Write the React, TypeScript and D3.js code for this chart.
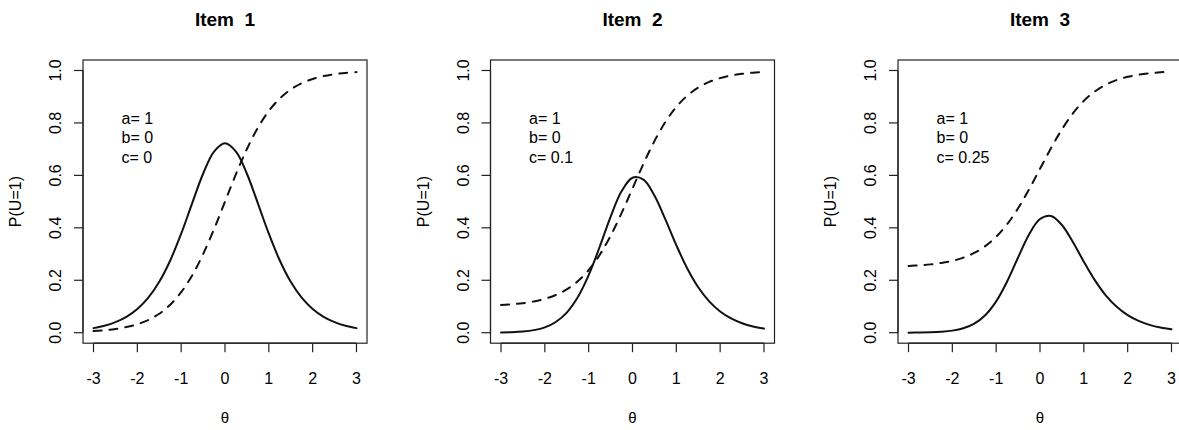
import React from 'react';
import * as d3 from 'd3';

const width = 1179;
const height = 430;
const FONT = '"Liberation Sans", Arial, Helvetica, sans-serif';

// theta grid the curves were read at
const theta = [-3, -2.75, -2.5, -2.25, -2, -1.75, -1.5, -1.25, -1, -0.75, -0.5, -0.25, 0,
  0.25, 0.5, 0.75, 1, 1.25, 1.5, 1.75, 2, 2.25, 2.5, 2.75, 3];

const itemNames = ['Item  1', 'Item  2', 'Item  3'];
const paramA = ['1', '1', '1'];
const paramB = ['0', '0', '0'];
const paramC = ['0', '0.1', '0.25'];

// dashed curves: P(U=1)
const icc1 = [0.0061, 0.0092, 0.0141, 0.0214, 0.0323, 0.0486, 0.0724, 0.1067, 0.1545, 0.2184, 0.2994, 0.3953, 0.5,
  0.6047, 0.7006, 0.7816, 0.8455, 0.8933, 0.9276, 0.9514, 0.9677, 0.9786, 0.9859, 0.9908, 0.9939];
const icc2 = [0.1055, 0.1083, 0.1127, 0.1193, 0.1291, 0.1437, 0.1652, 0.196, 0.2391, 0.2966, 0.3695, 0.4558, 0.55,
  0.6442, 0.7305, 0.8034, 0.861, 0.904, 0.9348, 0.9563, 0.9709, 0.9807, 0.9873, 0.9917, 0.9945];
const icc3 = [0.2546, 0.2569, 0.2606, 0.2661, 0.2742, 0.2865, 0.3043, 0.33, 0.3659, 0.4138, 0.4746, 0.5465, 0.625,
  0.7035, 0.7755, 0.8362, 0.8841, 0.92, 0.9457, 0.9636, 0.9758, 0.984, 0.9894, 0.9931, 0.9954];

// solid curves: information
const info1 = [0.0175, 0.0263, 0.0402, 0.0605, 0.0903, 0.1336, 0.1941, 0.2755, 0.3775, 0.4933, 0.6062, 0.6908, 0.7225,
  0.6908, 0.6062, 0.4933, 0.3775, 0.2755, 0.1941, 0.1336, 0.0903, 0.0605, 0.0402, 0.0263, 0.0175];
const info2 = [0.0009, 0.002, 0.0045, 0.0098, 0.0203, 0.0407, 0.0766, 0.135, 0.2196, 0.3269, 0.4421, 0.5392, 0.5911,
  0.5836, 0.5233, 0.432, 0.3337, 0.245, 0.1733, 0.1196, 0.081, 0.0544, 0.0361, 0.0237, 0.0158];
const info3 = [0.0003, 0.0007, 0.0016, 0.0037, 0.008, 0.017, 0.0346, 0.0668, 0.1196, 0.1953, 0.2868, 0.3748, 0.4335,
  0.4454, 0.4108, 0.3458, 0.2708, 0.2006, 0.1428, 0.099, 0.0672, 0.0451, 0.03, 0.0197, 0.0131];

const iccs = [icc1, icc2, icc3];
const infos = [info1, info2, info3];

const xTicks = [-3, -2, -1, 0, 1, 2, 3];
const yTicks = [0, 0.2, 0.4, 0.6, 0.8, 1.0];

const PANEL_LEFT = 83;
const PANEL_STEP = 407.5;
const PANEL_W = 284;
const TOP = 60;
const BOTTOM = 343.2;

const Panel = ({i}: {i: number}) => {
  const left = PANEL_LEFT + i * PANEL_STEP;
  const x = d3.scaleLinear().domain([-3.24, 3.24]).range([left, left + PANEL_W]);
  const y = d3.scaleLinear().domain([-0.04, 1.04]).range([BOTTOM, TOP]);
  const line = d3.line<number>()
    .x((d, k) => x(theta[k]))
    .y(d => y(d))
    .curve(d3.curveCatmullRom.alpha(0.5));
  const cx = left + PANEL_W / 2;
  const cy = (TOP + BOTTOM) / 2;

  return (
    <g fontFamily={FONT} fill="#000">
      <text x={cx} y={26} textAnchor="middle" fontWeight="bold" fontSize={19} style={{whiteSpace: 'pre'}}>
        {itemNames[i]}
      </text>

      <path d={line(iccs[i]) || ''} fill="none" stroke="#111" strokeWidth={2}
        strokeDasharray="8,8" strokeLinecap="round" />
      <path d={line(infos[i]) || ''} fill="none" stroke="#111" strokeWidth={2} strokeLinecap="round" />

      <rect x={left} y={TOP} width={PANEL_W} height={BOTTOM - TOP} fill="none" stroke="#222" strokeWidth={1.2} />

      {/* x axis */}
      <line x1={x(-3)} x2={x(3)} y1={BOTTOM} y2={BOTTOM} stroke="#222" strokeWidth={1.2} />
      {xTicks.map(t => (
        <g key={'x' + t}>
          <line x1={x(t)} x2={x(t)} y1={BOTTOM} y2={BOTTOM + 9} stroke="#222" strokeWidth={1.2} />
          <text x={x(t)} y={384} textAnchor="middle" fontSize={16}>{t < 0 ? '-' + Math.abs(t) : t}</text>
        </g>
      ))}
      <text x={cx} y={423} textAnchor="middle" fontSize={15}>θ</text>

      {/* y axis */}
      <line x1={left} x2={left} y1={y(0)} y2={y(1)} stroke="#222" strokeWidth={1.2} />
      {yTicks.map(t => (
        <g key={'y' + t}>
          <line x1={left} x2={left - 9} y1={y(t)} y2={y(t)} stroke="#222" strokeWidth={1.2} />
          <text transform={`translate(${left - 22},${y(t)}) rotate(-90)`} textAnchor="middle" fontSize={16}>
            {t.toFixed(1)}
          </text>
        </g>
      ))}
      <text transform={`translate(${left - 62},${cy}) rotate(-90)`} textAnchor="middle" fontSize={16}>P(U=1)</text>

      {/* item parameters */}
      <text x={left + 38.5} y={123.5} fontSize={16} style={{whiteSpace: 'pre'}}>{'a= ' + paramA[i]}</text>
      <text x={left + 38.5} y={143} fontSize={16} style={{whiteSpace: 'pre'}}>{'b= ' + paramB[i]}</text>
      <text x={left + 38.5} y={162.5} fontSize={16} style={{whiteSpace: 'pre'}}>{'c= ' + paramC[i]}</text>
    </g>
  );
};

export default function App() {
  return (
    <svg width={width} height={height} viewBox={`0 0 ${width} ${height}`}
      style={{position: 'absolute', left: 0, top: 0, background: '#fff'}}>
      {[0, 1, 2].map(i => <Panel key={i} i={i} />)}
    </svg>
  );
}
